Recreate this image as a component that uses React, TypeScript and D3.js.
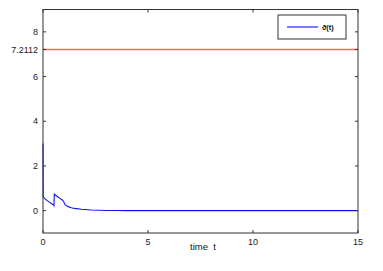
import React, { useEffect, useRef } from "react";
import * as d3 from "d3";

const tValues = [0, 0.01, 0.1, 0.2, 0.3, 0.4, 0.5, 0.52, 0.54, 0.6, 0.7, 0.8, 0.9, 0.97, 1.05, 1.1, 1.2, 1.35, 1.5, 1.83, 2.0, 2.3, 2.7, 3.0, 3.5, 4, 5, 15];
const thetaValues = [3.0, 0.62, 0.53, 0.45, 0.38, 0.32, 0.25, 0.22, 0.74, 0.69, 0.62, 0.55, 0.49, 0.43, 0.27, 0.23, 0.18, 0.13, 0.1, 0.06, 0.05, 0.03, 0.02, 0.01, 0.005, 0, 0, 0];
const bound = 7.2112;
const xTicks = [0, 5, 10, 15];
const yTicks = [0, 2, 4, 6, 8];
const legendLabel = "\u03D1(t)";
const xLabel = "time  t";

const App: React.FC = () => {
  const svgRef = useRef<SVGSVGElement>(null);

  useEffect(() => {
    if (!svgRef.current) return;
    const svg = d3.select(svgRef.current);
    const width = 383;
    const height = 271;
    const margin = { top: 9.5, right: 25, bottom: 38, left: 43 };
    const font = "Liberation Sans, Arial, sans-serif";

    svg.attr("width", width).attr("height", height);

    const x = d3.scaleLinear().domain([0, 15]).range([margin.left, width - margin.right]);
    const y = d3.scaleLinear().domain([-1, 9]).range([height - margin.bottom, margin.top]);

    const g = svg.append("g");

    // reference line
    g.append("line")
      .attr("x1", x(0))
      .attr("x2", x(15))
      .attr("y1", y(bound))
      .attr("y2", y(bound))
      .attr("stroke", "#ff6262")
      .attr("stroke-width", 1.5);

    const line = d3
      .line<number>()
      .x((_, i) => x(tValues[i]))
      .y((d) => y(d));

    g.append("path")
      .datum(thetaValues)
      .attr("fill", "none")
      .attr("stroke", "#1010ff")
      .attr("stroke-width", 1.1)
      .attr("d", line);

    // frame
    const x0 = x(0), x1 = x(15), y0 = y(-1), y1 = y(9);
    g.append("rect")
      .attr("x", x0)
      .attr("y", y1)
      .attr("width", x1 - x0)
      .attr("height", y0 - y1)
      .attr("fill", "none")
      .attr("stroke", "#333")
      .attr("stroke-width", 1);

    const tk = 3;
    xTicks.forEach((t) => {
      g.append("line").attr("x1", x(t)).attr("x2", x(t)).attr("y1", y0).attr("y2", y0 - tk).attr("stroke", "#333");
      g.append("line").attr("x1", x(t)).attr("x2", x(t)).attr("y1", y1).attr("y2", y1 + tk).attr("stroke", "#333");
      g.append("text")
        .attr("x", x(t))
        .attr("y", y0 + 12)
        .attr("text-anchor", "middle")
        .style("font-family", font)
        .style("font-size", "9px")
        .attr("fill", "#222")
        .text(t);
    });

    [...yTicks, bound].forEach((v) => {
      g.append("line").attr("x1", x0).attr("x2", x0 + tk).attr("y1", y(v)).attr("y2", y(v)).attr("stroke", "#333");
      g.append("line").attr("x1", x1).attr("x2", x1 - tk).attr("y1", y(v)).attr("y2", y(v)).attr("stroke", "#333");
      g.append("text")
        .attr("x", x0 - 5)
        .attr("y", y(v))
        .attr("dy", "0.35em")
        .attr("text-anchor", "end")
        .style("font-family", font)
        .style("font-size", "9px")
        .attr("fill", "#222")
        .text(v);
    });

    g.append("text")
      .attr("x", 203)
      .attr("y", 250)
      .attr("text-anchor", "middle")
      .style("font-family", font)
      .style("font-size", "9.5px")
      .attr("fill", "#111")
      .style("white-space", "pre")
      .text(xLabel);

    // legend
    const lg = g.append("g").attr("transform", "translate(278,15)");
    lg.append("rect")
      .attr("width", 68)
      .attr("height", 24)
      .attr("fill", "#fff")
      .attr("stroke", "#333");
    lg.append("line")
      .attr("x1", 9)
      .attr("x2", 40)
      .attr("y1", 12)
      .attr("y2", 12)
      .attr("stroke", "#1010ff")
      .attr("stroke-width", 1.1);
    lg.append("text")
      .attr("x", 44)
      .attr("y", 12)
      .attr("dy", "0.35em")
      .style("font-family", font)
      .style("font-size", "7.5px")
      .style("font-weight", "bold")
      .attr("fill", "#111")
      .text(legendLabel);

    return () => {
      svg.selectAll("*").remove();
    };
  }, []);

  return (
    <svg
      ref={svgRef}
      style={{ position: "absolute", left: 0, top: 0, background: "#fff" }}
    />
  );
};

export default App;
